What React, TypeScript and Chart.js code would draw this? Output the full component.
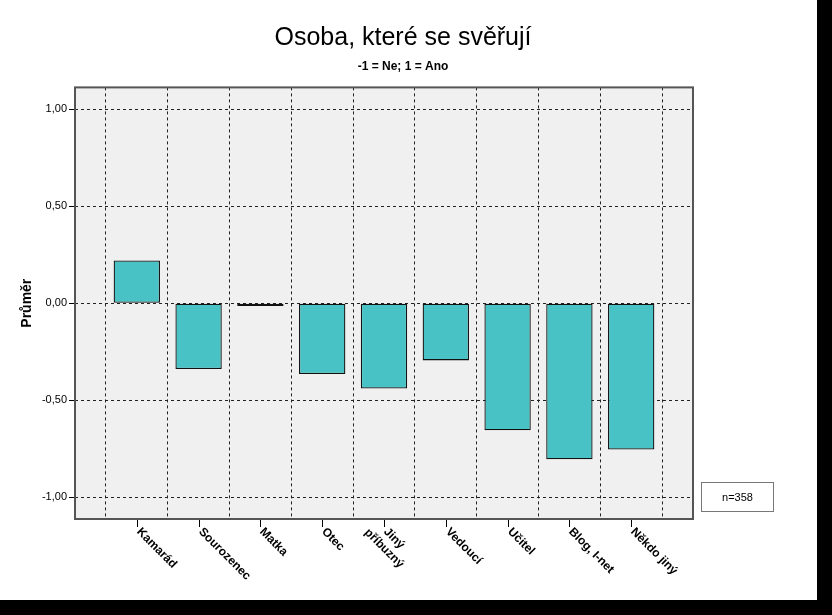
import React, { useEffect, useRef } from "react";
import { Chart, registerables } from "chart.js";
Chart.register(...registerables);

const categories = ["Kamarád", "Sourozenec", "Matka", "Otec", "Jiný\npříbuzný", "Vedoucí", "Učitel", "Blog, I-net", "Někdo jiný"];
const means = [0.22, -0.34, -0.015, -0.365, -0.44, -0.295, -0.655, -0.805, -0.755];
const yTicks = [-1, -0.5, 0, 0.5, 1];
const titleText = "Osoba, které se svěřují";
const subtitleText = "-1 = Ne; 1 = Ano";
const yTitle = "Průměr";
const nText = "n=358";

const FONT = "Arial, 'Liberation Sans', sans-serif";

export default function App() {
  const ref = useRef<HTMLCanvasElement>(null);
  useEffect(() => {
    const labelPlugin = {
      id: "rotLabels",
      afterDraw(chart: any) {
        const ctx = chart.ctx;
        const xs = chart.scales.x;
        const bottom = chart.chartArea.bottom;
        ctx.save();
        ctx.strokeStyle = "#000";
        ctx.lineWidth = 1;
        categories.forEach((lab, i) => {
          const px = Math.round(xs.getPixelForValue(i + 1)) + 0.5;
          ctx.beginPath();
          ctx.moveTo(px, bottom + 1);
          ctx.lineTo(px, bottom + 8);
          ctx.stroke();
          const lines = lab.split("\n");
          ctx.save();
          ctx.translate(px + 1, bottom + 11);
          ctx.rotate(Math.PI / 4);
          ctx.font = "bold 12px " + FONT;
          ctx.fillStyle = "#000";
          ctx.textBaseline = "middle";
          ctx.textAlign = "left";
          const widths = lines.map((l) => ctx.measureText(l).width);
          const maxW = Math.max(...widths);
          lines.forEach((l, j) => {
            const off = lines.length > 1 ? (maxW - widths[j]) / 2 - (maxW - widths[0]) / 2 : 0;
            ctx.fillText(l, off, j * 14);
          });
          ctx.restore();
        });
        // n box
        ctx.fillStyle = "#fff";
        ctx.strokeStyle = "#777";
        ctx.lineWidth = 1;
        const bx = Math.round(chart.chartArea.right + 8) + 0.5;
        const by = Math.round(chart.scales.y.getPixelForValue(-1) - 15) + 0.5;
        ctx.fillRect(bx, by, 72, 29);
        ctx.strokeRect(bx, by, 72, 29);
        ctx.fillStyle = "#000";
        ctx.font = "11px " + FONT;
        ctx.textAlign = "center";
        ctx.textBaseline = "middle";
        ctx.fillText(nText, bx + 36, by + 15);
        const ca = chart.chartArea;
        ctx.strokeStyle = "#555";
        ctx.lineWidth = 2;
        ctx.strokeRect(ca.left, ca.top, ca.right - ca.left, ca.bottom - ca.top);
        ctx.restore();
      },
    };
    const bgPlugin = {
      id: "bg",
      beforeDraw(chart: any) {
        const ctx = chart.ctx;
        const ca = chart.chartArea;
        ctx.save();
        ctx.fillStyle = "#fff";
        ctx.fillRect(0, 0, chart.width, chart.height);
        ctx.fillStyle = "#f0f0f0";
        ctx.fillRect(ca.left, ca.top, ca.right - ca.left, ca.bottom - ca.top);
        ctx.restore();
      },
    };
    const chart = new Chart(ref.current!, {
      type: "bar",
      data: {
        datasets: [
          {
            data: means.map((v, i) => ({ x: i + 1, y: v })),
            backgroundColor: "#48c2c5",
            borderColor: "#111",
            borderWidth: 1.3,
            borderSkipped: false,
            barPercentage: 0.75,
            categoryPercentage: 1,
          },
        ],
      },
      options: {
        animation: false,
        responsive: false,
        maintainAspectRatio: false,
        layout: { padding: { left: 0, right: 11, top: 0, bottom: 0 } },
        plugins: {
          legend: { display: false },
          tooltip: { enabled: false },
          title: {
            display: true,
            text: titleText,
            color: "#000",
            font: { family: FONT, size: 25, weight: "normal" },
            padding: { top: 23, bottom: 6 },
          },
          subtitle: {
            display: true,
            text: subtitleText,
            color: "#000",
            font: { family: FONT, size: 12, weight: "bold" },
            padding: { top: 0, bottom: 14 },
          },
        },
        scales: {
          x: {
            type: "linear",
            min: 0,
            max: 10,
            offset: false,
            grid: {
              offset: true,
              color: "#222",
              lineWidth: 1,
              drawTicks: false,
            },
            border: { display: false, dash: [3, 3] },
            ticks: { display: false, stepSize: 1 },
            afterFit(scale: any) {
              scale.height = 81;
            },
          },
          y: {
            min: -1.113,
            max: 1.113,
            afterBuildTicks(scale: any) {
              scale.ticks = yTicks.map((v) => ({ value: v }));
            },
            grid: { color: "#222", lineWidth: 1, tickLength: 6, tickColor: "#000" },
            border: { display: false, dash: [3, 3] },
            title: {
              display: true,
              text: yTitle,
              color: "#000",
              font: { family: FONT, size: 14, weight: "bold" },
              padding: { top: 19, bottom: 0 },
            },
            ticks: {
              color: "#000",
              font: { family: FONT, size: 11 },
              padding: 2,
              callback: (v: any) => Number(v).toFixed(2).replace(".", ","),
            },
            afterFit(scale: any) {
              scale.width = 75;
            },
          },
          y2: {
            type: "linear",
            position: "right",
            display: true,
            min: -1.113,
            max: 1.113,
            grid: { display: false, drawTicks: false },
            border: { display: false },
            ticks: { display: false },
            afterFit(scale: any) {
              scale.width = 113;
            },
          },
        },
      },
      plugins: [bgPlugin, labelPlugin],
    });
    return () => chart.destroy();
  }, []);
  return (
    <div style={{ position: "fixed", left: 0, top: 0, width: 832, height: 615, background: "#000" }}>
      <canvas ref={ref} width={817} height={600} style={{ display: "block" }} />
    </div>
  );
}
